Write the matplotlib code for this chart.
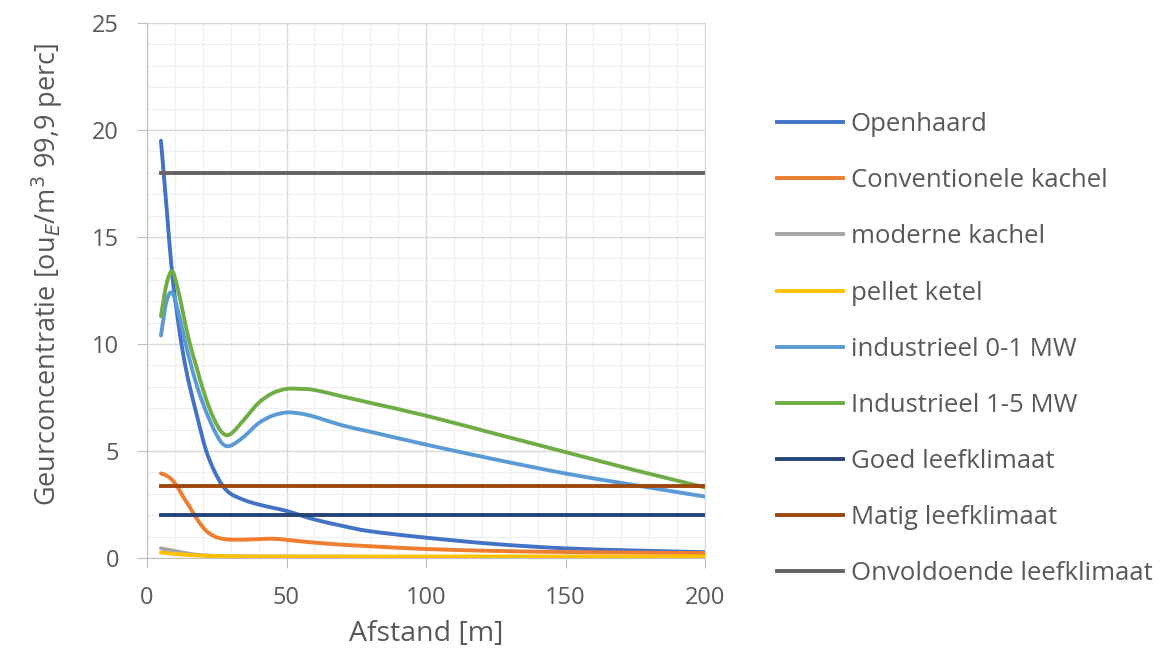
import numpy as np
import matplotlib
matplotlib.use("Agg")
import matplotlib.pyplot as plt
from matplotlib.path import Path
from matplotlib.patches import PathPatch
from matplotlib.lines import Line2D
from matplotlib.ticker import MultipleLocator

# ---- data ----
afstand = [5, 7, 9, 11, 13, 15, 18, 21, 24, 27, 30, 35, 40, 45, 50, 55, 60, 70, 80, 100, 125, 150, 175, 200]

openhaard = [19.5, 16.4, 13.3, 11.2, 9.5, 8.2, 6.6, 5.1, 4.1, 3.4, 3.0, 2.7, 2.5, 2.35, 2.2, 2.0,
             1.8, 1.5, 1.25, 0.95, 0.65, 0.45, 0.35, 0.27]
conventionele = [3.95, 3.85, 3.65, 3.3, 2.85, 2.45, 1.8, 1.3, 1.02, 0.9, 0.86, 0.86, 0.88, 0.9, 0.85,
                 0.78, 0.72, 0.62, 0.55, 0.42, 0.33, 0.28, 0.25, 0.23]
moderne = [0.45, 0.4, 0.35, 0.3, 0.25, 0.2, 0.15, 0.12, 0.1, 0.09, 0.08, 0.08, 0.07, 0.07, 0.07,
           0.06, 0.06, 0.06, 0.05, 0.05, 0.05, 0.05, 0.05, 0.05]
pellet = [0.25, 0.23, 0.2, 0.18, 0.16, 0.14, 0.12, 0.1, 0.09, 0.08, 0.08, 0.07, 0.07, 0.07, 0.07,
          0.07, 0.07, 0.07, 0.07, 0.07, 0.07, 0.07, 0.07, 0.07]
industrieel_0_1 = [10.4, 12.0, 12.4, 11.6, 10.5, 9.4, 8.0, 6.9, 6.0, 5.35, 5.25, 5.7, 6.3, 6.65, 6.8,
                   6.75, 6.6, 6.2, 5.9, 5.3, 4.6, 3.95, 3.4, 2.87]
industrieel_1_5 = [11.3, 12.8, 13.4, 12.6, 11.4, 10.2, 8.8, 7.5, 6.5, 5.85, 5.8, 6.5, 7.25, 7.7, 7.9,
                   7.9, 7.85, 7.55, 7.25, 6.65, 5.8, 4.95, 4.1, 3.3]
goed = 2.0
matig = 3.35
onvoldoende = 18.0

labels = ["Openhaard", "Conventionele kachel", "moderne kachel", "pellet ketel",
          "industrieel 0-1 MW", "Industrieel 1-5 MW", "Goed leefklimaat",
          "Matig leefklimaat", "Onvoldoende leefklimaat"]
colors = ["#4472C4", "#ED7D31", "#A5A5A5", "#FFC000", "#5B9BD5", "#70AD47",
          "#264478", "#9E480E", "#636363"]

x_ticks = [0, 50, 100, 150, 200]
y_ticks = [0, 5, 10, 15, 20, 25]

# ---- figure ----
W, H = 1167, 660
fig = plt.figure(figsize=(W / 100, H / 100), dpi=100)
plt.rcParams['font.family'] = ["Open Sans", "DejaVu Sans"]

L, R, T, B = 147, 705, 23, 558
ax = fig.add_axes([L / W, 1 - B / H, (R - L) / W, (B - T) / H])
ax.set_xlim(0, 200)
ax.set_ylim(0, 25)
ax.set_xticks(x_ticks)
ax.set_yticks(y_ticks)
ax.xaxis.set_minor_locator(MultipleLocator(10))
ax.yaxis.set_minor_locator(MultipleLocator(1))
ax.grid(which='major', color='#D9D9D9', lw=1.0)
ax.grid(which='minor', color='#F0F0F0', lw=0.9)
ax.set_axisbelow(True)
for s in ax.spines.values():
    s.set_color('#D9D9D9')
ax.spines['left'].set_color('#BFBFBF')
ax.spines['bottom'].set_color('#BFBFBF')
ax.tick_params(which='major', length=7, color='#BFBFBF', labelsize=17,
               labelcolor='#595959')
ax.tick_params(axis='y', which='major', pad=13)
ax.tick_params(axis='x', which='major', pad=13)
ax.tick_params(which='minor', length=0)


def smooth_path(xs, ys):
    pts = np.column_stack([xs, ys]).astype(float)
    n = len(pts)
    verts = [pts[0]]
    codes = [Path.MOVETO]
    for i in range(n - 1):
        p0 = pts[i - 1] if i > 0 else pts[i]
        p1 = pts[i]
        p2 = pts[i + 1]
        p3 = pts[i + 2] if i + 2 < n else pts[i + 1]
        c1 = p1 + (p2 - p0) / 6.0
        c2 = p2 - (p3 - p1) / 6.0
        verts += [c1, c2, p2]
        codes += [Path.CURVE4] * 3
    return Path(verts, codes)


series = [openhaard, conventionele, moderne, pellet, industrieel_0_1, industrieel_1_5]
lw = 2.8
for ys, c in zip(series, colors[:6]):
    patch = PathPatch(smooth_path(afstand, ys), fill=False, edgecolor=c, lw=lw,
                      capstyle='round', joinstyle='round')
    ax.add_patch(patch)

for val, c in zip([goed, matig, onvoldoende], colors[6:]):
    ax.plot([afstand[0], afstand[-1]], [val, val], color=c, lw=lw)

handles = [Line2D([0], [0], color=c, lw=lw) for c in colors]
fig.legend(handles, labels, loc='upper left', bbox_to_anchor=(767 / W, 1 - 102 / H),
           frameon=False, fontsize=18.5, labelcolor='#595959', handlelength=2.55,
           handletextpad=0.3, labelspacing=1.21, borderaxespad=0)

fig.text(47 / W, 1 - 274 / H, "Geurconcentratie [ou$_E$/m$^3$ 99,9 perc]", rotation=90,
         ha='center', va='center', fontsize=19.5, color='#595959')
fig.text((L + R) / 2 / W, 1 - 634 / H, "Afstand [m]", ha='center', va='center',
         fontsize=20.5, color='#595959')

fig.savefig("out.png", dpi=100, facecolor='white')
